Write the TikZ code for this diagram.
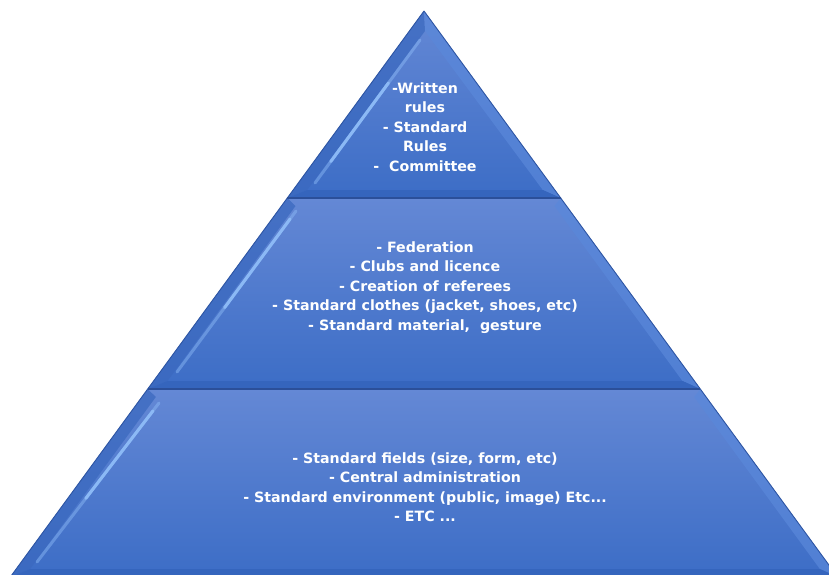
\documentclass[tikz,border=0pt]{standalone}
\usepackage{fontspec}
\setmainfont{DejaVu Sans}
\usetikzlibrary{calc}
\definecolor{facetop}{HTML}{6488D5}
\definecolor{facebot}{HTML}{3C6DC6}
\definecolor{leftband}{HTML}{3B69BF}
\definecolor{rightband}{HTML}{5A88DA}
\definecolor{botband}{HTML}{3565BD}
\definecolor{edgeline}{HTML}{2D55A3}
\definecolor{sepline}{HTML}{2B4F99}
\definecolor{hilite}{HTML}{8FBDF8}
\tikzset{
  lbl/.style={text=white, font=\bfseries\fontsize{14.2}{19.5}\selectfont, align=center, inner sep=0pt},
  hlfaint/.style={draw=hilite, line width=3pt, line cap=round, opacity=0.45},
  hl/.style={draw=hilite, line width=3pt, line cap=round, opacity=0.9},
  edge/.style={draw=edgeline, line width=0.9pt},
  sep/.style={draw=sepline, line width=1.8pt}
}
% #1 outer top-left, #2 outer top-right, #3 outer bottom-left, #4 outer bottom-right
% #5 inner top-left, #6 inner top-right, #7 inner bottom-left, #8 inner bottom-right
\newcommand{\pyrTier}[8]{%
  \shade[top color=facetop, bottom color=facebot] #1 -- #2 -- #4 -- #3 -- cycle;
  \fill[leftband, opacity=0.75] #1 -- #3 -- #7 -- #5 -- cycle;
  \fill[rightband, opacity=0.7] #2 -- #6 -- #8 -- #4 -- cycle;
  \fill[botband] #3 -- #4 -- #8 -- #7 -- cycle;
  \draw[edge] #1 -- #3;
  \draw[edge] #2 -- #4;
}
\begin{document}
\begin{tikzpicture}[x=1pt, y=-1pt]
\useasboundingbox (0,0) rectangle (829,574);
\clip (0,0) rectangle (829,574);
% bottom tier
\pyrTier{(147.7,389)}{(700.3,389)}{(10.3,577)}{(837.7,577)}{(155.8,397)}{(694.2,397)}{(30.1,569)}{(819.9,569)}
\coordinate (h3a) at (159,403); \coordinate (h3b) at (37,562);
\draw[hlfaint] (h3a) -- (h3b);
\draw[hl] ($(h3a)!0.05!(h3b)$) -- ($(h3a)!0.6!(h3b)$);
% middle tier
\pyrTier{(287.3,198)}{(560.7,198)}{(147.7,389)}{(700.3,389)}{(295.5,206)}{(554.5,206)}{(167.5,381)}{(682.5,381)}
\coordinate (h2a) at (296,211); \coordinate (h2b) at (177,372);
\draw[hlfaint] (h2a) -- (h2b);
\draw[hl] ($(h2a)!0.05!(h2b)$) -- ($(h2a)!0.6!(h2b)$);
\draw[sep] (147.7,389) -- (700.3,389);
% top tier
\pyrTier{(424,11)}{(424,11)}{(287.3,198)}{(560.7,198)}{(425,31)}{(425,31)}{(307.2,190)}{(542.8,190)}
\coordinate (h1a) at (420,40); \coordinate (h1b) at (315,183);
\draw[hlfaint] (h1a) -- (h1b);
\draw[hl] ($(h1a)!0.3!(h1b)$) -- ($(h1a)!0.85!(h1b)$);
\draw[sep] (287.3,198) -- (560.7,198);
% texts
\node[lbl] (t1) at (425,127) {-Written\\rules\\- Standard\\Rules\\-\ \ Committee};
\node[lbl] (t2) at (425,287.5) {- Federation\\- Clubs and licence\\- Creation of referees\\- Standard clothes (jacket, shoes, etc)\\- Standard material,\ \ gesture};
\node[lbl] (t3) at (425,487) {- Standard fields (size, form, etc)\\- Central administration\\- Standard environment (public, image) Etc...\\- ETC ...};
\end{tikzpicture}
\end{document}
